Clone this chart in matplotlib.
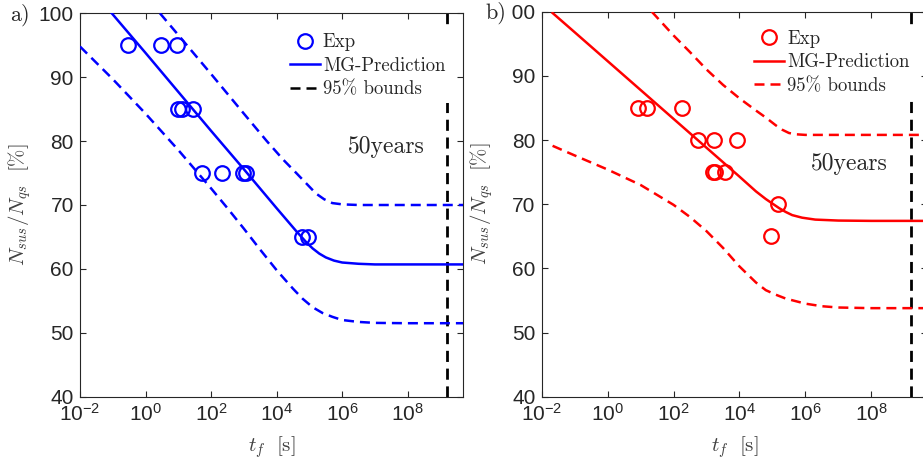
import numpy as np
import matplotlib
matplotlib.use("Agg")
import matplotlib.pyplot as plt
from matplotlib.lines import Line2D
from matplotlib.font_manager import FontProperties
from matplotlib.patches import Rectangle
from matplotlib.ticker import FixedLocator, FuncFormatter, NullLocator

plt.rcParams['font.family'] = ['Liberation Sans', 'DejaVu Sans']
plt.rcParams['mathtext.fontset'] = 'custom'
plt.rcParams['mathtext.rm'] = 'Liberation Sans'
plt.rcParams['mathtext.it'] = 'Liberation Sans:italic'
plt.rcParams['mathtext.bf'] = 'Liberation Sans:bold'
plt.rcParams['axes.unicode_minus'] = False

# ---------------- data (a) : blue ----------------
a_exp_t = [0.30, 2.9, 8.9, 10.0, 13.2, 28.8, 54, 209, 955, 1200, 60000, 91000]
a_exp_y = [95, 95, 95, 85, 85, 85, 75, 75, 75, 75, 65, 65]

a_pred_logt = [-1.03, 0, 1, 2, 3, 4, 4.6, 4.9, 5.1, 5.3, 5.5, 5.75, 6.0, 6.5, 7, 8, 9.7]
a_pred_y = [100, 93.8, 87.7, 81.6, 75.6, 69.5, 65.9, 64.2, 63.2, 62.4, 61.8, 61.3, 61.0, 60.8, 60.7, 60.7, 60.7]

a_up_logt = [0.44, 1, 2, 3, 3.7, 4.2, 4.6, 4.9, 5.2, 5.45, 5.7, 6.0, 6.5, 7, 8, 9.7]
a_up_y = [100, 96.6, 90.5, 84.3, 80.0, 77.1, 75.0, 73.4, 71.8, 70.9, 70.3, 70.1, 70.0, 70.0, 70.0, 70.0]

a_lo_logt = [-2, -1, 0, 1, 2, 2.5, 3, 3.5, 4, 4.5, 4.8, 5.1, 5.4, 5.7, 6.0, 6.5, 7, 8, 9.7]
a_lo_y = [94.8, 89.7, 84.3, 78.6, 72.6, 69.5, 66.3, 63.0, 59.8, 56.9, 55.3, 54.0, 53.1, 52.5, 52.0, 51.7, 51.55, 51.5, 51.5]

# ---------------- data (b) : red ----------------
b_exp_t = [8.5, 15.8, 186, 562, 1700, 8300, 1550, 1820, 3630, 151000, 91000]
b_exp_y = [85, 85, 85, 80, 80, 80, 75, 75, 75, 70, 65]

b_pred_logt = [-1.67, -1, 0, 1, 2, 3, 4, 4.5, 4.8, 5.0, 5.2, 5.4, 5.6, 5.9, 6.3, 7, 8, 9.7]
b_pred_y = [99.8, 96.8, 92.3, 87.8, 83.3, 78.8, 74.3, 72.0, 70.8, 70.1, 69.4, 68.8, 68.3, 67.9, 67.6, 67.45, 67.4, 67.4]

b_up_logt = [1.34, 2, 2.5, 3, 3.5, 4, 4.5, 4.8, 5.1, 5.3, 5.5, 5.7, 6.0, 6.5, 7, 8, 9.7]
b_up_y = [100, 96.3, 93.7, 91.0, 88.6, 86.5, 84.6, 83.5, 82.3, 81.6, 81.1, 80.9, 80.8, 80.8, 80.8, 80.8, 80.8]

b_lo_logt = [-1.67, -1, 0, 1, 2, 2.5, 3, 3.5, 4, 4.5, 4.8, 5.1, 5.4, 5.7, 6.0, 6.5, 7, 8, 9.7]
b_lo_y = [79.1, 77.6, 75.4, 73.0, 69.9, 68.0, 65.8, 63.2, 60.3, 57.8, 56.6, 55.9, 55.3, 54.9, 54.5, 54.1, 53.9, 53.8, 53.8]

t_50years = 50 * 365.25 * 24 * 3600.0

xtick_exps = [-2, 0, 2, 4, 6, 8]
yticks = [40, 50, 60, 70, 80, 90, 100]
legend_labels = ['Exp', 'MG-Prediction', '95% bounds']

W, H = 923, 466
fig = plt.figure(figsize=(W / 100, H / 100), dpi=100)

TXT = '#262626'
LAB = '#404040'
dash = (0, (4, 2.4))
CMR = 'cmr10'


def style_axes(ax):
    ax.set_xscale('log')
    ax.set_xlim(1e-2, 5e9)
    ax.set_ylim(40, 100)
    ax.xaxis.set_major_locator(FixedLocator([10.0 ** e for e in xtick_exps]))
    ax.xaxis.set_minor_locator(NullLocator())
    ax.xaxis.set_major_formatter(FuncFormatter(lambda v, p: r'$10^{%d}$' % round(np.log10(v))))
    ax.set_yticks(yticks)
    ax.tick_params(direction='in', top=True, right=True, length=4, width=0.8,
                   colors=TXT, labelsize=15, pad=4.5)
    for s in ax.spines.values():
        s.set_color(TXT)
        s.set_linewidth(0.8)
    ax.set_xlabel(r'$t_f\ \ [\mathrm{s}]$', fontsize=15, color=LAB,
                  math_fontfamily='cm', labelpad=7)
    ax.set_ylabel(r'$N_{sus}/N_{qs}\ \ [\%]$', fontsize=15, color=LAB,
                  math_fontfamily='cm', labelpad=4)


def panel(ax, col, exp_t, exp_y, pl, py, ul, uy, ll, ly, leg_dash_col, leg_anchor, txt_y):
    ax.plot(10.0 ** np.array(pl), py, color=col, lw=1.8, zorder=3)
    ax.plot(10.0 ** np.array(ul), uy, color=col, lw=1.8, ls=dash, zorder=3)
    ax.plot(10.0 ** np.array(ll), ly, color=col, lw=1.8, ls=dash, zorder=3)
    ax.plot(exp_t, exp_y, 'o', mfc='none', mec=col, ms=10.5, mew=1.6, zorder=4)
    ax.axvline(t_50years, color='k', lw=2, ls=dash, zorder=2)
    ax.text(2.2e7, txt_y, '50years', fontsize=17, color=TXT, family=CMR,
            ha='center', va='center')
    handles = [Line2D([], [], ls='none', marker='o', mfc='none', mec=col, ms=10.5, mew=1.6),
               Line2D([], [], color=col, lw=1.8),
               Line2D([], [], color=leg_dash_col, lw=1.8, ls=dash)]
    leg = ax.legend(handles, legend_labels, loc='upper right', bbox_to_anchor=leg_anchor,
                    frameon=True, facecolor='white', edgecolor='none', framealpha=1,
                    fancybox=False, borderpad=0.25, handlelength=1.6, handletextpad=0.15,
                    labelspacing=0.3, borderaxespad=0, numpoints=1,
                    prop=FontProperties(family=CMR, size=13.5))
    for t in leg.get_texts():
        t.set_color(TXT)
    leg.set_zorder(10)


ax1 = fig.add_axes([80 / W, 1 - 396.7 / H, (463.4 - 80) / W, (396.7 - 13.3) / H])
style_axes(ax1)
panel(ax1, 'blue', a_exp_t, a_exp_y, a_pred_logt, a_pred_y, a_up_logt, a_up_y,
      a_lo_logt, a_lo_y, 'black', (0.965, 0.96), 79.1)

ax2 = fig.add_axes([541.7 / W, 1 - 396.7 / H, (927.3 - 541.7) / W, (396.7 - 11.7) / H])
style_axes(ax2)
panel(ax2, 'red', b_exp_t, b_exp_y, b_pred_logt, b_pred_y, b_up_logt, b_up_y,
      b_lo_logt, b_lo_y, 'red', (0.966, 0.965), 76.3)

fig.text(10 / W, 1 - 15 / H, 'a)', fontsize=16, color=TXT, family=CMR,
         ha='left', va='center')
fig.patches.append(Rectangle((480 / W, 1 - 26 / H), 32 / W, 26 / H,
                             transform=fig.transFigure, facecolor='white',
                             edgecolor='none', zorder=5))
fig.text(485 / W, 1 - 13 / H, 'b)', fontsize=16, color=TXT, family=CMR,
         ha='left', va='center', zorder=6)

fig.savefig('out.png', dpi=100)
